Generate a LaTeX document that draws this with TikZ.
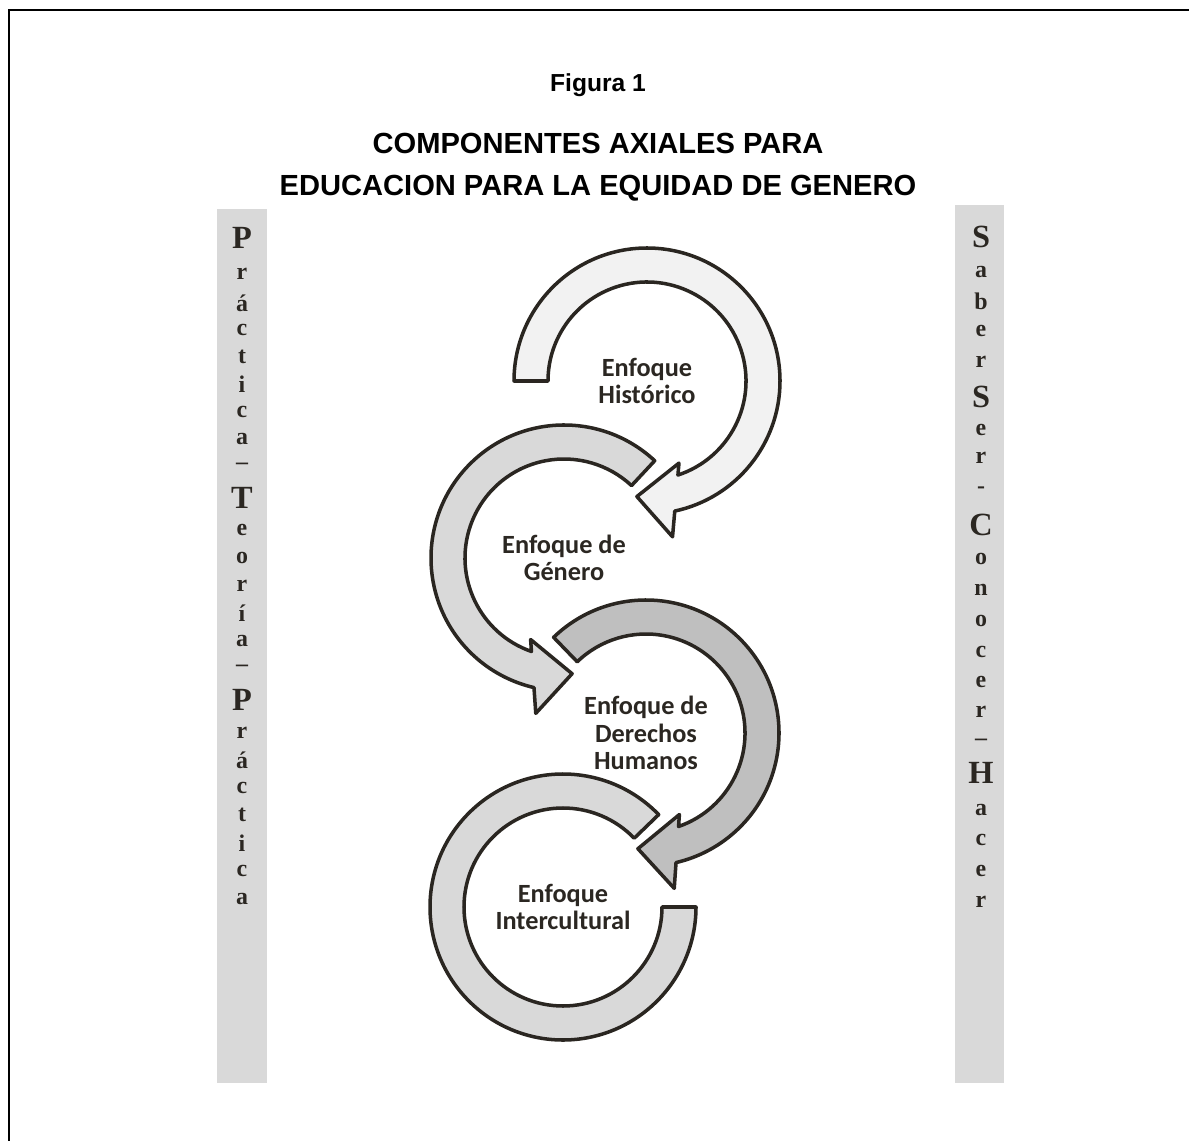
\documentclass[tikz,border=0pt]{standalone}
\usepackage{fontspec}
\setmainfont{Liberation Serif}
\newfontfamily\barfont{Liberation Serif Bold}
\newfontfamily\titlefont{Liberation Sans}
\newfontfamily\labelfont{Carlito}
\usetikzlibrary{calc}
\definecolor{RingLine}{HTML}{2A2621}
\definecolor{RingPale}{HTML}{F2F2F2}
\definecolor{RingLight}{HTML}{D9D9D9}
\definecolor{RingMid}{HTML}{BFBFBF}
\definecolor{BarFill}{HTML}{D9D9D9}
\definecolor{InkDark}{HTML}{2B2722}
\newcommand{\Rout}{133}
\newcommand{\Rin}{99}
\newcommand{\Rmid}{116}
\newcommand{\headL}{39}
\newcommand{\headH}{37}
\newcommand{\barcap}[1]{{\fontsize{23}{26}\selectfont #1}}
% ring arrow: #1 centre, #2 fill, #3 tail angle, #4 tip angle, #5 1 = clockwise, -1 = counter-clockwise
\newcommand{\ringarrow}[5]{%
  \pgfmathsetmacro{\aout}{#4+#5*asin(\headL/\Rout)}%
  \pgfmathsetmacro{\ain}{#4+#5*asin(\headL/\Rin)}%
  \pgfmathsetmacro{\aback}{#4+#5*90}%
  \coordinate (tip) at ($(#1)+(#4:\Rmid)$);
  \coordinate (base) at ($(tip)+(\aback:\headL)$);
  \filldraw[ring, fill=#2] ($(#1)+(#3:\Rout)$)
    arc[start angle=#3, end angle=\aout, radius=\Rout]
    -- ($(base)+(#4:\headH)$) -- (tip) -- ($(base)+(#4+180:\headH)$)
    -- ($(#1)+(\ain:\Rin)$)
    arc[start angle=\ain, end angle=#3, radius=\Rin] -- cycle;
}

\begin{document}
\begin{tikzpicture}[x=0.025cm, y=0.025cm,
  ring/.style={draw=RingLine, line width=2.5pt, line join=round},
  ringlabel/.style={font=\labelfont\bfseries\fontsize{18.7}{19.3}\selectfont, text=InkDark, align=center},
  barletter/.style={font=\barfont\fontsize{17}{20}\selectfont, text=InkDark, inner sep=0pt},
  titletext/.style={font=\titlefont\bfseries, align=center}]
  \useasboundingbox (0,0) rectangle (1189,-1141);
  % frame
  \draw[line width=1.5pt] (9,-1141) -- (9,-10) -- (1189,-10);
  % titles
  \node[titletext, font=\titlefont\bfseries\fontsize{17.5}{20}\selectfont] (fig) at (598,-85) {Figura 1};
  \node[titletext, font=\titlefont\bfseries\fontsize{20.7}{29.8}\selectfont] (title) at (598,-167)
    {COMPONENTES AXIALES PARA\\EDUCACION PARA LA EQUIDAD DE GENERO};
  % side bars
  \fill[BarFill] (217,-209) rectangle (267,-1083);
  \fill[BarFill] (955,-205) rectangle (1004,-1083);
  \foreach \ch/\yy [count=\i] in {\barcap{P}/238, r/274, á/303, c/330, t/357, i/384, c/412, a/439,
      –/466, \barcap{T}/498, e/530, o/558, r/586, í/613, a/641, –/668, \barcap{P}/700,
      r/733, á/760, c/788, t/815, i/843, c/871, a/899}
    \node[barletter] (pl\i) at (242,-\yy) {\ch};
  \foreach \ch/\yy [count=\i] in {\barcap{S}/237, a/272, b/301, e/331, r/362, \barcap{S}/397, e/430,
      r/458, -/490, \barcap{C}/525, o/559, n/590, o/621, c/652, e/682, r/712, –/742,
      \barcap{H}/773, a/810, c/840, e/871, r/902}
    \node[barletter] (sr\i) at (981,-\yy) {\ch};
  % ring centres
  \coordinate (hist) at (647,-381);
  \coordinate (gen) at (564,-558);
  \coordinate (dh) at (646,-733);
  \coordinate (inter) at (563,-907);
  % rings
  \ringarrow{hist}{RingPale}{180}{-95}{1}
  \ringarrow{gen}{RingLight}{47}{274}{-1}
  \ringarrow{dh}{RingMid}{134}{-94}{1}
  \filldraw[ring, fill=RingLight] ($(inter)+(44:\Rout)$) arc[start angle=44, end angle=360, radius=\Rout]
    -- ($(inter)+(0:\Rin)$) arc[start angle=360, end angle=44, radius=\Rin] -- cycle;
  % labels
  \node[ringlabel] (histlbl) at (hist) {Enfoque\\Histórico};
  \node[ringlabel] (genlbl) at (gen) {Enfoque de\\Género};
  \node[ringlabel] (dhlbl) at (dh) {Enfoque de\\Derechos\\Humanos};
  \node[ringlabel] (interlbl) at (inter) {Enfoque\\Intercultural};
\end{tikzpicture}
\end{document}
